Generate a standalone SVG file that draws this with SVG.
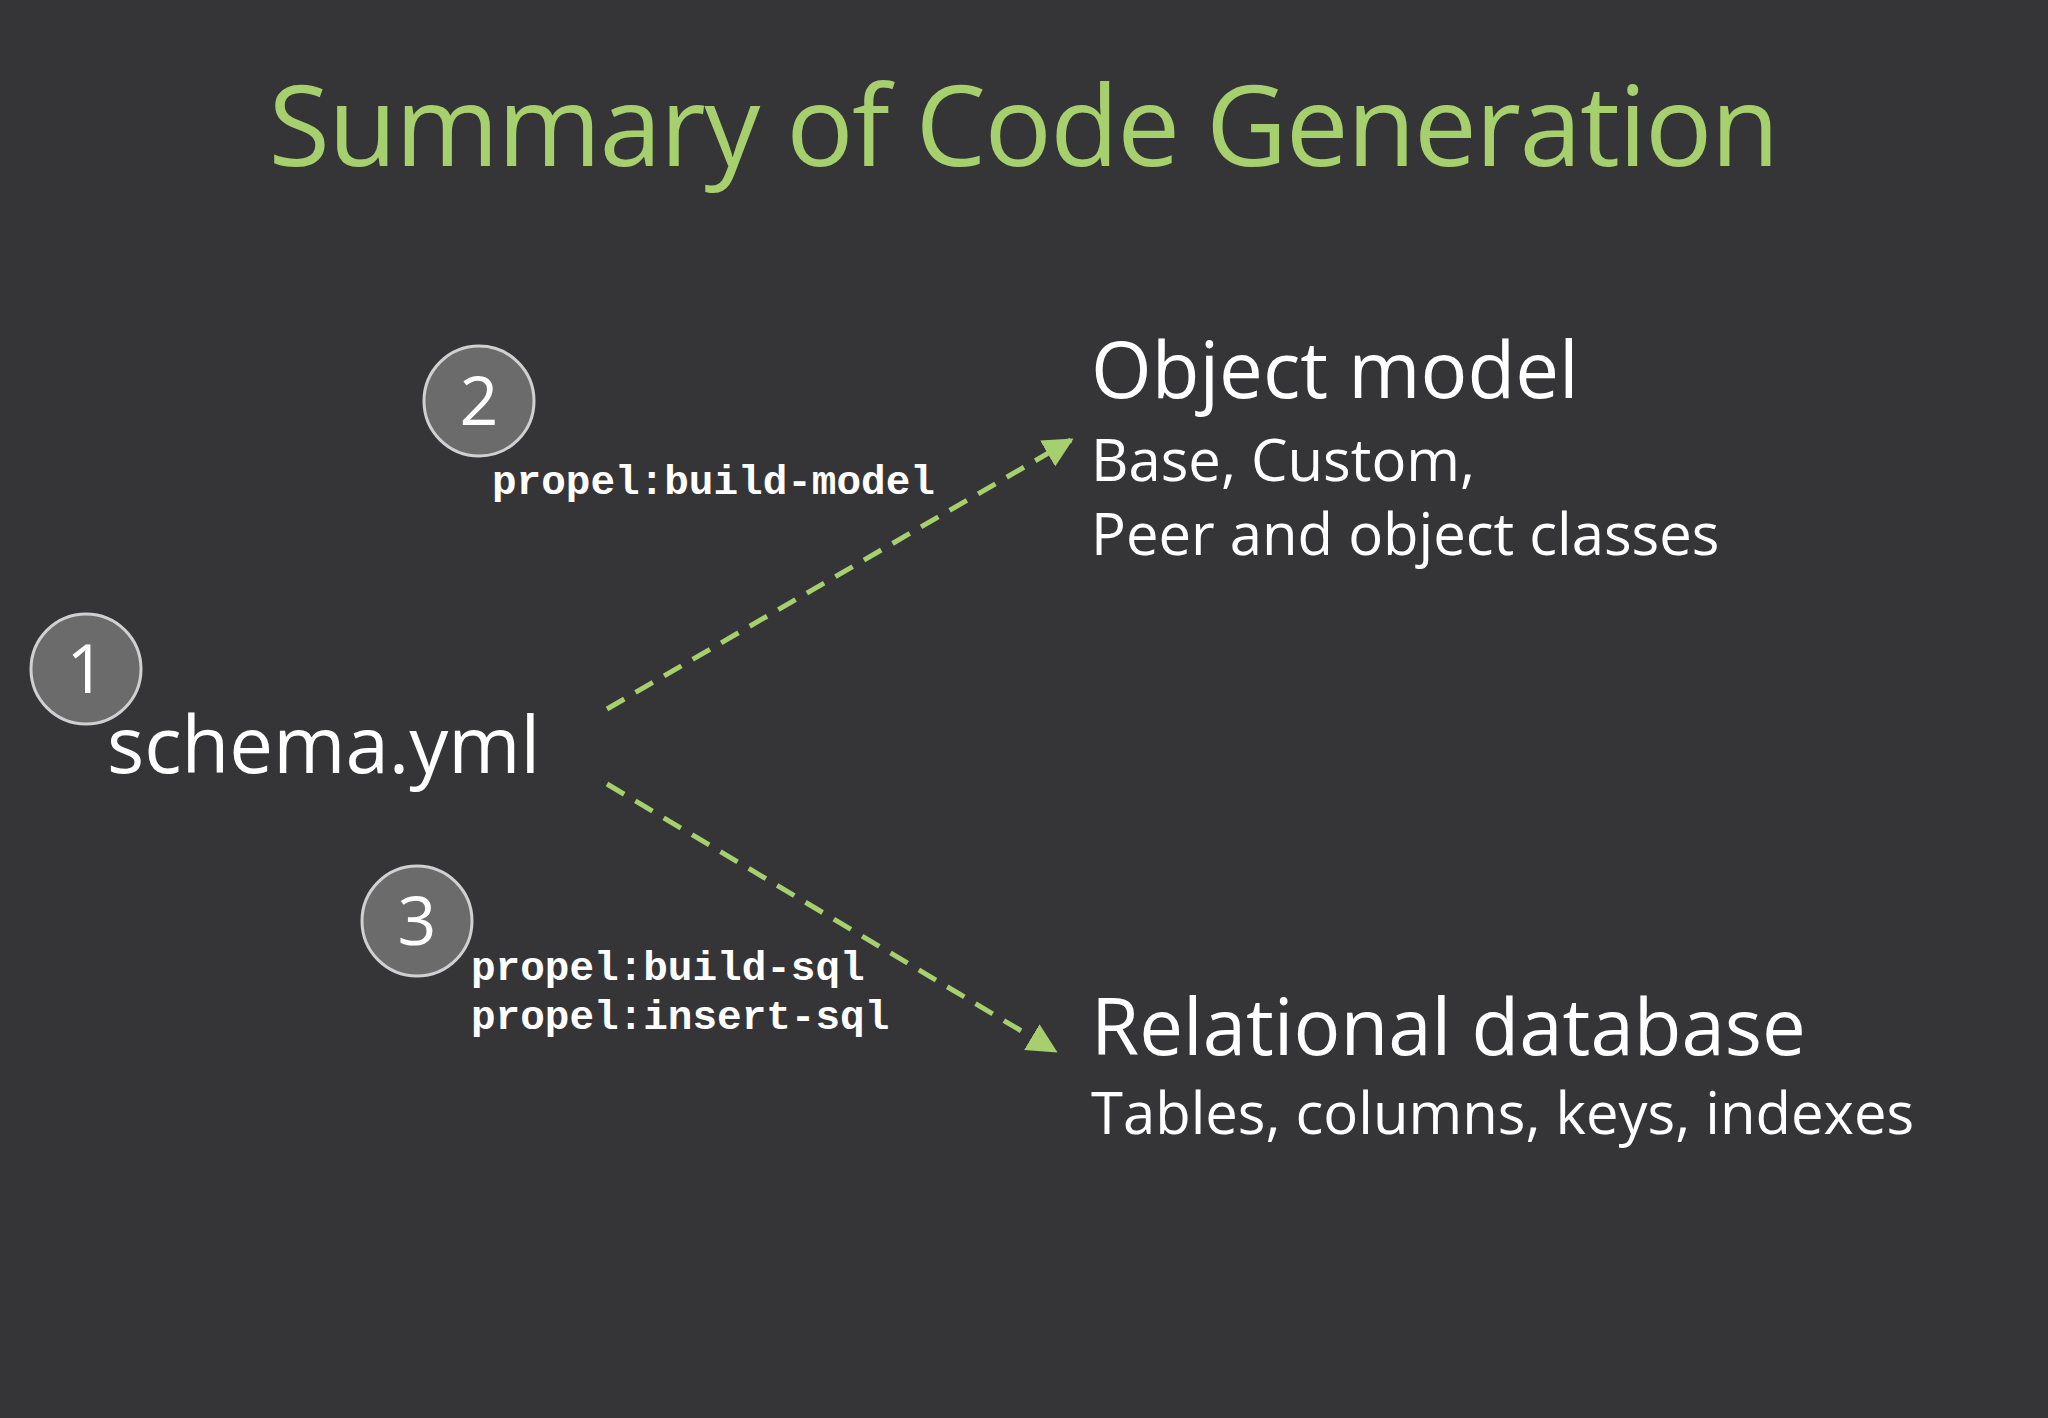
<svg xmlns="http://www.w3.org/2000/svg" width="2048" height="1418" viewBox="0 0 2048 1418">
<defs>
<style>
.t{font-family:"Open Sans","Liberation Sans",sans-serif;fill:#ffffff}
.m{font-family:"Liberation Mono","DejaVu Sans Mono",monospace;font-weight:bold;fill:#ffffff;font-size:41px}
.c{fill:#6b6b6b;stroke:#d0d0d0;stroke-width:3}
.n{font-family:"Open Sans","Liberation Sans",sans-serif;fill:#ffffff;font-size:68px;text-anchor:middle}
.e{stroke:#a6cf6e;stroke-width:5;stroke-dasharray:20 13;fill:none}
</style>
<marker id="a" viewBox="0 0 10 10" refX="9" refY="5" markerWidth="6" markerHeight="6" markerUnits="strokeWidth" orient="auto"><path d="M0 0L10 5L0 10z" fill="#a6cf6e"/></marker>
</defs>
<rect width="2048" height="1418" fill="#353537"/>
<text x="1024" y="166" text-anchor="middle" font-family="Open Sans,Liberation Sans,sans-serif" font-size="112" fill="#a6cf6e" textLength="1511">Summary of Code Generation</text>
<g id="connectors">
<line class="e" x1="607" y1="709" x2="1071" y2="440" marker-end="url(#a)"/>
<line class="e" x1="607" y1="784" x2="1055" y2="1051" marker-end="url(#a)"/>
</g>
<g id="n1"><circle class="c" cx="86" cy="669" r="55"/><text class="n" x="86" y="693">1</text></g>
<g id="n2"><circle class="c" cx="479" cy="401" r="55"/><text class="n" x="479" y="425">2</text></g>
<g id="n3"><circle class="c" cx="417" cy="921" r="55"/><text class="n" x="417" y="945">3</text></g>
<g id="schema"><text class="t" x="107" y="773" font-size="78">schema.yml</text></g>
<g id="cmd2"><text class="m" x="492" y="494">propel:build-model</text></g>
<g id="cmd3"><text class="m" x="471" y="980">propel:build-sql</text><text class="m" x="471" y="1029">propel:insert-sql</text></g>
<g id="object"><text class="t" x="1091" y="398" font-size="78">Object model</text>
<text class="t" x="1091" y="481" font-size="58">Base, Custom,</text>
<text class="t" x="1091" y="555" font-size="58">Peer and object classes</text></g>
<g id="relational"><text class="t" x="1091" y="1055" font-size="78">Relational database</text>
<text class="t" x="1091" y="1134" font-size="58">Tables, columns, keys, indexes</text></g>
</svg>
